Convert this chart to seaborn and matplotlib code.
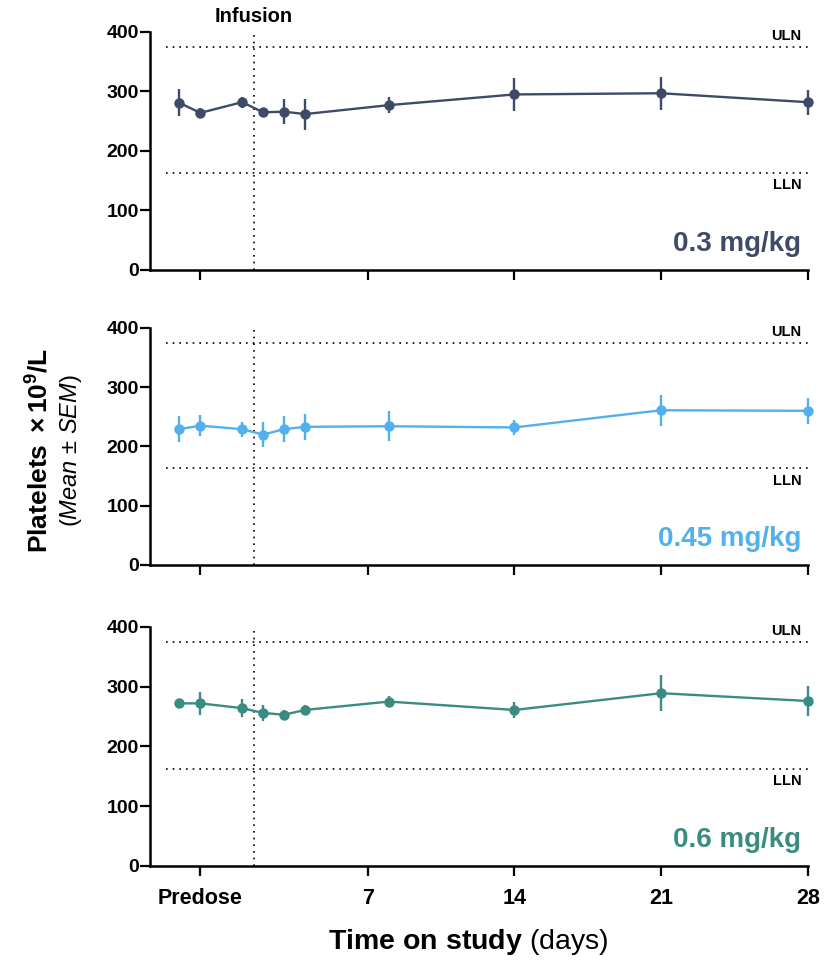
import matplotlib
matplotlib.use("Agg")
import matplotlib.pyplot as plt
import seaborn as sns
import numpy as np
import pandas as pd

# Daten
days = [-2, -1, 1, 2, 3, 4, 8, 14, 21, 28]
doses = ["0.3 mg/kg", "0.45 mg/kg", "0.6 mg/kg"]
colors = ["#3e4a67", "#52b0ec", "#3a8b80"]

mean_03 = [281, 264, 282, 265, 266, 262, 277, 295, 297, 282]
sem_03 = [23, 9, 9, 6, 21, 26, 14, 27, 28, 21]
mean_045 = [229, 235, 229, 220, 229, 233, 234, 232, 261, 260]
sem_045 = [22, 18, 13, 21, 22, 22, 25, 13, 26, 22]
mean_06 = [272, 272, 264, 256, 253, 261, 275, 261, 289, 276]
sem_06 = [7, 19, 15, 13, 8, 8, 9, 13, 30, 25]

means = [mean_03, mean_045, mean_06]
sems = [sem_03, sem_045, sem_06]

uln = 375
lln = 163
infusion_day = 1.55
xtick_pos = [-1, 7, 14, 21, 28]
xtick_labels = ["Predose", "7", "14", "21", "28"]

sns.set_style("ticks")
plt.rcParams["font.family"] = ["Liberation Sans", "DejaVu Sans"]
plt.rcParams["mathtext.fontset"] = "custom"
plt.rcParams["mathtext.rm"] = "Liberation Sans"
plt.rcParams["mathtext.it"] = "Liberation Sans:italic"
plt.rcParams["mathtext.bf"] = "Liberation Sans:bold"
plt.rcParams["text.color"] = "black"
plt.rcParams["axes.edgecolor"] = "black"
plt.rcParams["xtick.color"] = "black"
plt.rcParams["ytick.color"] = "black"

fig = plt.figure(figsize=(8.31, 9.6), dpi=100)
panel_boxes = [
    [0.1805, 0.7188, 0.7915, 0.2479],
    [0.1805, 0.4115, 0.7915, 0.2470],
    [0.1805, 0.0980, 0.7915, 0.2490],
]

for i, box in enumerate(panel_boxes):
    ax = fig.add_axes(box)
    df = pd.DataFrame({"day": days, "mean": means[i], "sem": sems[i]})
    eb = ax.errorbar(df["day"], df["mean"], yerr=df["sem"], fmt="none",
                     ecolor=colors[i], elinewidth=1.7, capsize=0, zorder=3)
    for coll in eb.lines[2]:
        coll.set_clip_on(False)
    sns.lineplot(data=df, x="day", y="mean", ax=ax, color=colors[i],
                 marker="o", markersize=7.5, markeredgewidth=0, linewidth=1.7,
                 zorder=4, clip_on=False)

    # Referenzlinien
    ax.axhline(uln, xmin=0.025, xmax=1, color="black", linestyle=(0, (1, 3)), lw=1.2)
    ax.axhline(lln, xmin=0.025, xmax=1, color="black", linestyle=(0, (1, 3)), lw=1.2)
    ax.axvline(infusion_day, color="black", linestyle=(0, (1, 3)), lw=1.2)
    ax.text(27.7, uln + 7, "ULN", ha="right", va="bottom", fontsize=10.5, fontweight="bold")
    ax.text(27.7, lln - 9, "LLN", ha="right", va="top", fontsize=10.5, fontweight="bold")
    ax.text(27.7, 22, doses[i], ha="right", va="bottom", fontsize=20,
            fontweight="bold", color=colors[i])

    ax.set_xlim(-3.4, 28)
    ax.set_ylim(0, 400)
    ax.set_yticks([0, 100, 200, 300, 400])
    ax.set_xticks(xtick_pos)
    ax.set_xlabel("")
    ax.set_ylabel("")
    if i == 2:
        ax.set_xticklabels(xtick_labels, fontsize=15.5, fontweight="bold")
    else:
        ax.set_xticklabels([])
    for lab in ax.get_yticklabels():
        lab.set_fontweight("bold")
        lab.set_fontsize(14)
    ax.tick_params(axis="both", direction="out", length=7, width=1.6)
    ax.tick_params(axis="y", pad=1)
    ax.tick_params(axis="x", pad=9)
    for s in ["left", "bottom"]:
        ax.spines[s].set_linewidth(1.8)
    sns.despine(ax=ax)
    if i == 0:
        ax.text(infusion_day, 410, "Infusion", ha="center", va="bottom",
                fontsize=14.5, fontweight="bold")

fig.text(0.5635, 0.019, r"$\mathbf{Time\ on\ study}$ (days)", ha="center",
         va="center", fontsize=20.5)
fig.text(0.047, 0.531, r"$\mathbf{Platelets\ \times 10^{9}/L}$", ha="center",
         va="center", rotation=90, fontsize=19)
fig.text(0.085, 0.531, r"($\mathit{Mean}$ ± $\mathit{SEM}$)", ha="center",
         va="center", rotation=90, fontsize=17)

fig.savefig("out.png", dpi=100)
